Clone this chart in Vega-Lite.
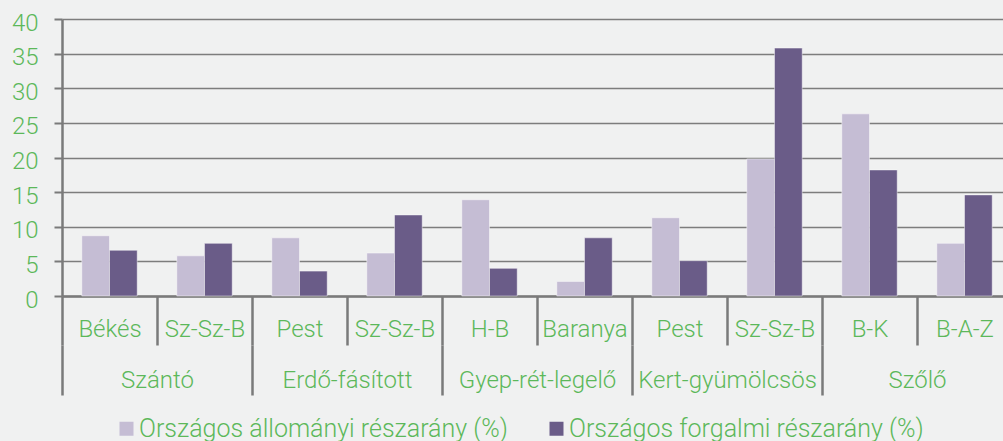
{
  "$schema": "https://vega.github.io/schema/vega-lite/v6.json",
  "width": 941,
  "height": 277,
  "autosize": {"type": "none"},
  "padding": {"left": 62, "top": 19, "right": 0, "bottom": 145},
  "background": "#f0f1f1",
  "config": {"view": {"stroke": null}, "font": "Roboto"},
  "data": {
    "values": [
      {"id": "Szántó|Békés", "group": "Szántó", "series": "Országos állományi részarány (%)", "value": 8.7},
      {"id": "Szántó|Békés", "group": "Szántó", "series": "Országos forgalmi részarány (%)", "value": 6.6},
      {"id": "Szántó|Sz-Sz-B", "group": "Szántó", "series": "Országos állományi részarány (%)", "value": 5.8},
      {"id": "Szántó|Sz-Sz-B", "group": "Szántó", "series": "Országos forgalmi részarány (%)", "value": 7.6},
      {"id": "Erdő-fásított|Pest", "group": "Erdő-fásított", "series": "Országos állományi részarány (%)", "value": 8.4},
      {"id": "Erdő-fásított|Pest", "group": "Erdő-fásított", "series": "Országos forgalmi részarány (%)", "value": 3.6},
      {"id": "Erdő-fásított|Sz-Sz-B", "group": "Erdő-fásított", "series": "Országos állományi részarány (%)", "value": 6.2},
      {"id": "Erdő-fásított|Sz-Sz-B", "group": "Erdő-fásított", "series": "Országos forgalmi részarány (%)", "value": 11.7},
      {"id": "Gyep-rét-legelő|H-B", "group": "Gyep-rét-legelő", "series": "Országos állományi részarány (%)", "value": 13.9},
      {"id": "Gyep-rét-legelő|H-B", "group": "Gyep-rét-legelő", "series": "Országos forgalmi részarány (%)", "value": 4.0},
      {"id": "Gyep-rét-legelő|Baranya", "group": "Gyep-rét-legelő", "series": "Országos állományi részarány (%)", "value": 2.1},
      {"id": "Gyep-rét-legelő|Baranya", "group": "Gyep-rét-legelő", "series": "Országos forgalmi részarány (%)", "value": 8.4},
      {"id": "Kert-gyümölcsös|Pest", "group": "Kert-gyümölcsös", "series": "Országos állományi részarány (%)", "value": 11.3},
      {"id": "Kert-gyümölcsös|Pest", "group": "Kert-gyümölcsös", "series": "Országos forgalmi részarány (%)", "value": 5.1},
      {"id": "Kert-gyümölcsös|Sz-Sz-B", "group": "Kert-gyümölcsös", "series": "Országos állományi részarány (%)", "value": 19.8},
      {"id": "Kert-gyümölcsös|Sz-Sz-B", "group": "Kert-gyümölcsös", "series": "Országos forgalmi részarány (%)", "value": 35.8},
      {"id": "Szőlő|B-K", "group": "Szőlő", "series": "Országos állományi részarány (%)", "value": 26.3},
      {"id": "Szőlő|B-K", "group": "Szőlő", "series": "Országos forgalmi részarány (%)", "value": 18.2},
      {"id": "Szőlő|B-A-Z", "group": "Szőlő", "series": "Országos állományi részarány (%)", "value": 7.6},
      {"id": "Szőlő|B-A-Z", "group": "Szőlő", "series": "Országos forgalmi részarány (%)", "value": 14.6}
    ]
  },
  "layer": [
    {
      "mark": {"type": "bar", "stroke": "#ffffff", "strokeOpacity": 0.45, "strokeWidth": 1},
      "encoding": {
        "x": {
          "field": "id", "type": "nominal", "sort": null,
          "scale": {"range": [0, 950], "paddingInner": 0, "paddingOuter": 0},
          "axis": {
            "orient": "bottom", "title": null, "labelExpr": "split(datum.value, '|')[1]",
            "labelAngle": 0, "tickBand": "extent", "tickSize": 49, "tickWidth": 2.5,
            "tickColor": "#7a7a7a", "domainColor": "#7a7a7a", "domainWidth": 2.5,
            "labelFontSize": 24, "labelFontWeight": 300, "labelColor": "#5cb85a", "labelPadding": -16,
            "labelBaseline": "middle", "labelOverlap": false, "labelLimit": 0, "grid": false
          }
        },
        "xOffset": {
          "field": "series", "type": "nominal", "sort": null,
          "scale": {"paddingInner": 0, "paddingOuter": 0.714}
        },
        "y": {
          "field": "value", "type": "quantitative",
          "scale": {"domain": [0, 40], "nice": false},
          "axis": {
            "title": null, "values": [0, 5, 10, 15, 20, 25, 30, 35, 40], "grid": true,
            "gridColor": "#7d7d7d", "gridWidth": 1.5, "domainColor": "#7a7a7a", "domainWidth": 2.5,
            "tickColor": "#7a7a7a", "tickWidth": 2, "tickSize": 8, "labelFontSize": 24, "labelFontWeight": 300,
            "labelColor": "#5cb85a", "labelPadding": 16, "labelOffset": 4
          }
        },
        "color": {
          "field": "series", "type": "nominal", "sort": null,
          "scale": {"range": ["#c5bdd4", "#6a5c88"]},
          "legend": {
            "orient": "none", "legendX": 52, "legendY": 397, "direction": "horizontal",
            "title": null, "symbolType": "square", "symbolSize": 196, "symbolStrokeWidth": 0,
            "symbolOpacity": 1, "labelFontSize": 25, "labelFontWeight": 300, "labelColor": "#5cb85a", "labelOffset": 0,
            "labelLimit": 0, "columnPadding": 36, "padding": 0
          }
        }
      }
    },
    {
      "mark": {"type": "tick", "opacity": 0},
      "encoding": {
        "x": {
          "field": "group", "type": "nominal", "sort": null,
          "scale": {"range": [0, 950], "paddingInner": 0, "paddingOuter": 0},
          "axis": {
            "orient": "bottom", "offset": 49, "domain": false, "title": null, "labelAngle": 0,
            "tickBand": "extent", "tickSize": 50, "tickWidth": 2.5, "tickColor": "#7a7a7a",
            "labelFontSize": 24, "labelFontWeight": 300, "labelColor": "#5cb85a", "labelPadding": -15,
            "labelBaseline": "middle", "labelOverlap": false, "labelLimit": 0, "grid": false
          }
        }
      }
    }
  ],
  "resolve": {"scale": {"x": "independent"}, "axis": {"x": "independent"}}
}
